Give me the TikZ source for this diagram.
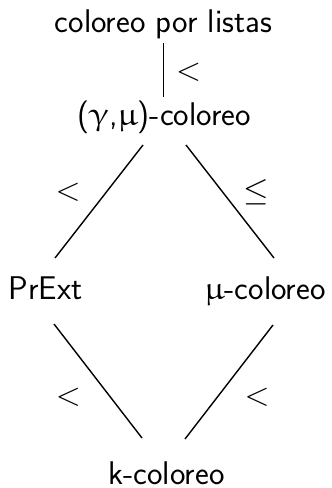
\RequirePackage{fix-cm}
\documentclass[tikz,border=0pt]{standalone}
\usepackage{amsmath,amssymb}
\usepackage{upgreek}
\usepackage{tikz}

\begin{document}
\begin{tikzpicture}[x=0.5pt, y=-0.5pt, line width=0.7pt, every node/.style={font=\sffamily\fontsize{16.4}{19}\selectfont, inner sep=0pt}]
      \useasboundingbox (0,0) rectangle (332,488);
      \node[anchor=base] (lst) at (163.5,32) {coloreo por listas};
      \node[anchor=base] (gm) at (164,125) {($\upgamma$,$\upmu$)-coloreo};
      \node[anchor=base] (prx) at (45.5,299) {PrExt};
      \node[anchor=base] (mu) at (265,299) {$\upmu$-coloreo};
      \node[anchor=base] (kc) at (166.5,484) {k-coloreo};
      \draw ([yshift=-5.5pt]lst.base) -- ([yshift=14pt]lst.base |- gm.base) node[pos=.54, xshift=12.5pt] {$<$};
      \draw ([xshift=-10.5pt,yshift=-10pt]gm.base) -- ([xshift=4.75pt,yshift=20.5pt]prx.base) node[pos=.42, xshift=-19pt] {$<$};
      \draw ([xshift=11pt,yshift=-10pt]gm.base) -- ([xshift=4.5pt,yshift=20.5pt]mu.base) node[pos=.42, xshift=16.5pt] {$\leq$};
      \draw ([xshift=4.25pt,yshift=-12.5pt]prx.base) -- ([xshift=-12.25pt,yshift=23pt]kc.base) node[pos=.64, xshift=-21pt] {$<$};
      \draw ([xshift=4pt,yshift=-13pt]mu.base) -- ([xshift=9.25pt,yshift=22.5pt]kc.base) node[pos=.63, xshift=19.75pt] {$<$};
    \end{tikzpicture}
\end{document}
